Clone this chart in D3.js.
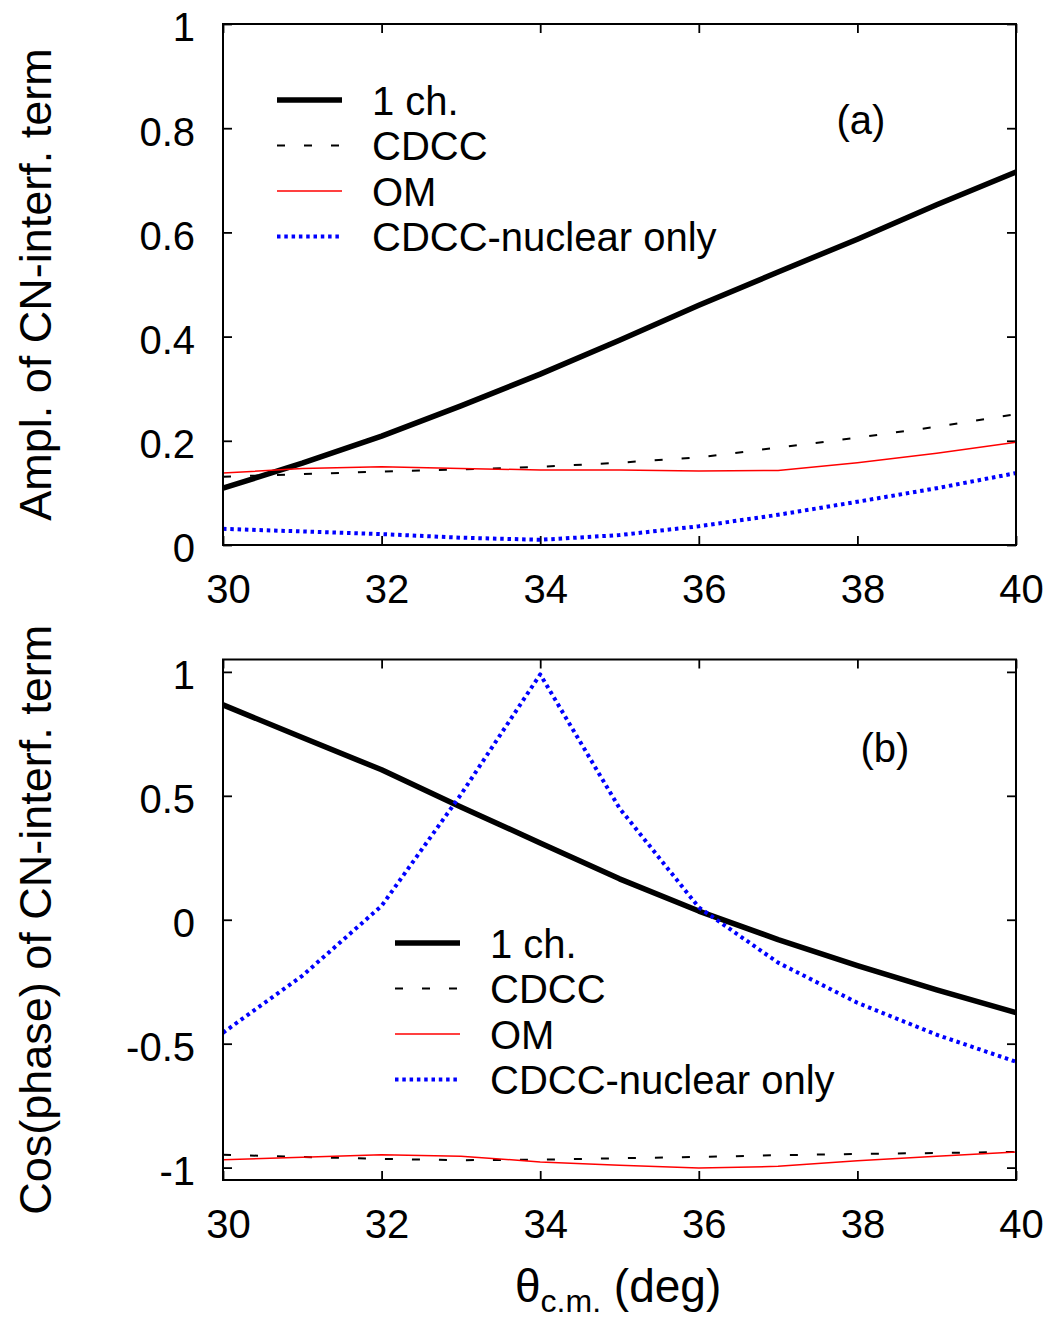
<!DOCTYPE html>
<html>
<head>
<meta charset="utf-8">
<script src="https://cdn.jsdelivr.net/npm/d3@7"></script>
<style>
  html, body { margin: 0; padding: 0; background: #fff; }
  svg { display: block; font-family: "Liberation Sans", Arial, sans-serif; }
</style>
</head>
<body>
<svg id="chart" width="1048" height="1321"></svg>
<script>
// ---------------- data ----------------
const theta = [30, 31, 32, 33, 34, 35, 36, 37, 38, 39, 40];

// panel (a): amplitude of CN-interference term
const amp1ch   = [0.109, 0.157, 0.209, 0.267, 0.328, 0.393, 0.460, 0.524, 0.587, 0.653, 0.716];
const ampCDCC  = [0.131, 0.136, 0.141, 0.145, 0.150, 0.158, 0.168, 0.187, 0.206, 0.227, 0.251];
const ampOM    = [0.138, 0.147, 0.150, 0.147, 0.144, 0.144, 0.142, 0.143, 0.158, 0.176, 0.197];
const ampNuc   = [0.031, 0.026, 0.021, 0.014, 0.010, 0.019, 0.036, 0.058, 0.083, 0.109, 0.138];

// panel (b): cos(phase) of CN-interference term
const cos1ch   = [0.867, 0.735, 0.605, 0.455, 0.310, 0.165, 0.035, -0.080, -0.185, -0.283, -0.375];
const cosCDCC  = [-0.948, -0.957, -0.965, -0.970, -0.968, -0.962, -0.957, -0.950, -0.945, -0.941, -0.937];
const cosOM    = [-0.968, -0.958, -0.948, -0.954, -0.977, -0.990, -1.002, -0.995, -0.972, -0.954, -0.937];
const cosNuc   = [-0.456, -0.226, 0.056, 0.505, 0.990, 0.450, 0.050, -0.173, -0.335, -0.464, -0.573];

const seriesNames = ["1 ch.", "CDCC", "OM", "CDCC-nuclear only"];
const xTicks = [30, 32, 34, 36, 38, 40];
const yTicksA = [0, 0.2, 0.4, 0.6, 0.8, 1];
const yTicksB = [-1, -0.5, 0, 0.5, 1];

// ---------------- styles ----------------
const styles = [
  { color: "#000000", width: 5.5, dash: null },
  { color: "#000000", width: 2, dash: "8,19" },
  { color: "#ff0000", width: 1.5, dash: null },
  { color: "#0000ff", width: 4, dash: "3.5,3.8" }
];

const svg = d3.select("#chart");
const left = 223, right = 1016;

const x = d3.scaleLinear().domain([30, 40]).range([left, right]);

// plain hyphen-minus formatting, like the original
const fmtNum = d => String(d);

function drawPanel(cfg) {
  const y = d3.scaleLinear().domain(cfg.yDomain).range([cfg.bottom, cfg.top]);
  const g = svg.append("g");

  const bottomAx = d3.axisBottom(x).tickValues(xTicks).tickSizeInner(-9).tickSizeOuter(0).tickPadding(30).tickFormat(fmtNum);
  const topAx = d3.axisTop(x).tickValues(xTicks).tickSizeInner(-9).tickSizeOuter(0).tickFormat("");
  const leftAx = d3.axisLeft(y).tickValues(cfg.yTicks).tickSizeInner(-9).tickSizeOuter(0).tickPadding(28).tickFormat(fmtNum);
  const rightAx = d3.axisRight(y).tickValues(cfg.yTicks).tickSizeInner(-9).tickSizeOuter(0).tickFormat("");

  const gb = g.append("g").attr("transform", `translate(0,${cfg.bottom})`).call(bottomAx);
  const gt = g.append("g").attr("transform", `translate(0,${cfg.top})`).call(topAx);
  const gl = g.append("g").attr("transform", `translate(${left},0)`).call(leftAx);
  const gr = g.append("g").attr("transform", `translate(${right},0)`).call(rightAx);

  [gb, gt, gl, gr].forEach(a => {
    a.select(".domain").remove();
    a.selectAll(".tick line").attr("stroke", "#000").attr("stroke-width", 1.8);
  });
  gb.selectAll(".tick text").attr("font-size", 40).attr("font-family", "Liberation Sans, Arial, sans-serif").attr("fill", "#000").attr("dx", 5);
  gl.selectAll(".tick text").attr("font-size", 40).attr("font-family", "Liberation Sans, Arial, sans-serif").attr("fill", "#000").attr("dy", "0.42em");

  const line = d3.line().x((d, i) => x(theta[i])).y(d => y(d));
  cfg.series.forEach((vals, k) => {
    const st = styles[k];
    g.append("path")
      .datum(vals)
      .attr("d", line)
      .attr("fill", "none")
      .attr("stroke", st.color)
      .attr("stroke-width", st.width)
      .attr("stroke-dasharray", st.dash)
      .attr("stroke-linejoin", "round");
  });

  g.append("rect")
    .attr("x", left).attr("y", cfg.top)
    .attr("width", right - left).attr("height", cfg.bottom - cfg.top)
    .attr("fill", "none").attr("stroke", "#000").attr("stroke-width", 2);

  g.append("text")
    .attr("transform", `translate(${cfg.titleX},${(cfg.top + cfg.bottom) / 2}) rotate(-90)`)
    .attr("text-anchor", "middle")
    .attr("font-size", 45)
    .attr("fill", "#000")
    .text(cfg.yTitle);

  g.append("text")
    .attr("x", cfg.labelX).attr("y", cfg.labelY)
    .attr("text-anchor", "middle")
    .attr("font-size", 40)
    .attr("fill", "#000")
    .text(cfg.label);

  const lg = g.append("g");
  seriesNames.forEach((name, k) => {
    const st = styles[k];
    const ly = cfg.legendY + k * 45.5;
    lg.append("line")
      .attr("x1", cfg.legendX).attr("x2", cfg.legendX + 65)
      .attr("y1", ly).attr("y2", ly)
      .attr("stroke", st.color)
      .attr("stroke-width", st.width)
      .attr("stroke-dasharray", st.dash);
    lg.append("text")
      .attr("x", cfg.legendX + 95).attr("y", ly + 14.5)
      .attr("font-size", 40)
      .attr("fill", "#000")
      .text(name);
  });
}

drawPanel({
  top: 24, bottom: 545, yDomain: [0, 1], yTicks: yTicksA,
  series: [amp1ch, ampCDCC, ampOM, ampNuc],
  yTitle: "Ampl. of CN-interf. term", titleX: 51,
  label: "(a)", labelX: 861, labelY: 134,
  legendX: 277, legendY: 100
});

drawPanel({
  top: 659.5, bottom: 1180, yDomain: [-1.05, 1.05], yTicks: yTicksB,
  series: [cos1ch, cosCDCC, cosOM, cosNuc],
  yTitle: "Cos(phase) of CN-interf. term", titleX: 51,
  label: "(b)", labelX: 885, labelY: 762,
  legendX: 395, legendY: 943
});

// x-axis title with subscript
const xt = svg.append("text")
  .attr("x", 515).attr("y", 1302)
  .attr("font-size", 46)
  .attr("fill", "#000");
xt.append("tspan").text("θ");
xt.append("tspan").attr("font-size", 32).attr("dy", 10).text("c.m.");
xt.append("tspan").attr("dy", -10).text(" (deg)");
</script>
</body>
</html>
